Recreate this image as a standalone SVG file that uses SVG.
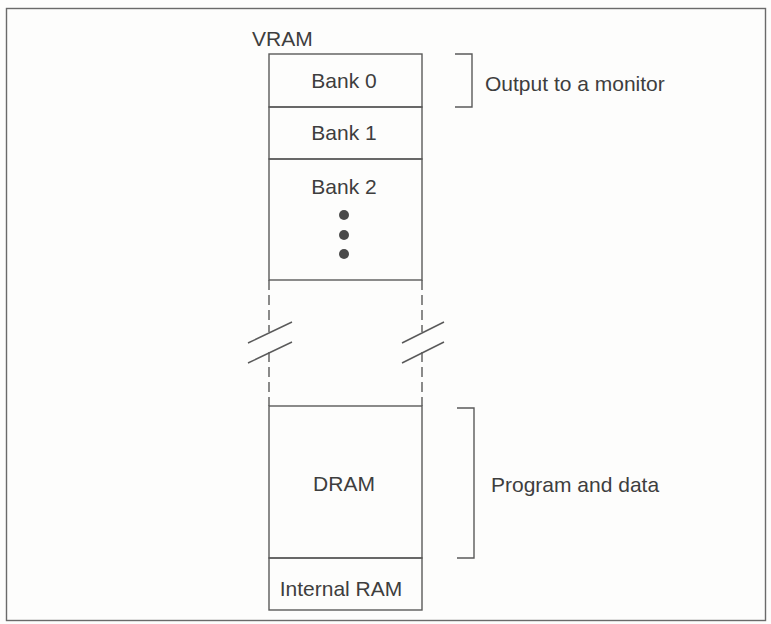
<svg xmlns="http://www.w3.org/2000/svg" width="771" height="624" viewBox="0 0 771 624">
<style>
.t{font-family:"Liberation Sans",Arial,sans-serif;font-size:21px;fill:#3e3e3e}
.m{text-anchor:middle}
.ln{stroke:#5a5a5a;stroke-width:1.4;fill:none}
.d{stroke:#5a5a5a;stroke-width:1.4;fill:none;stroke-dasharray:10 5}
</style>
<rect x="0" y="0" width="771" height="624" fill="#fdfdfc"/>
<rect x="6.5" y="8.5" width="759" height="612" fill="none" stroke="#6a6a6a" stroke-width="1.4"/>
<text class="t" x="252" y="46">VRAM</text>
<g id="bank0"><rect class="ln" x="269" y="54" width="153" height="53"/><text class="t m" x="344" y="88">Bank 0</text></g>
<g id="bank1"><rect class="ln" x="269" y="107" width="153" height="52"/><text class="t m" x="344" y="140">Bank 1</text></g>
<g id="bank2"><rect class="ln" x="269" y="159" width="153" height="121"/><text class="t m" x="344" y="194">Bank 2</text>
<circle cx="344" cy="215" r="5" fill="#4a4a4a"/><circle cx="344" cy="235" r="5" fill="#4a4a4a"/><circle cx="344" cy="254" r="5" fill="#4a4a4a"/></g>
<g id="gap">
<path class="d" d="M269 280V332M269 352V406M422 280V332M422 352V406"/>
<path class="ln" d="M248 343L292 322M248 363L292 342M402 343L444 322M402 363L444 342"/>
</g>
<g id="dram"><rect class="ln" x="269" y="406" width="153" height="152"/><text class="t m" x="344" y="491">DRAM</text></g>
<g id="iram"><rect class="ln" x="269" y="558" width="153" height="52"/><text class="t m" x="341" y="596" font-size="20">Internal RAM</text></g>
<g id="connectors">
<path class="ln" d="M455 54H472V107H455"/>
<path class="ln" d="M457 408H474V558H457"/>
</g>
<text class="t" x="485" y="91">Output to a monitor</text>
<text class="t" x="491" y="492">Program and data</text>
</svg>
